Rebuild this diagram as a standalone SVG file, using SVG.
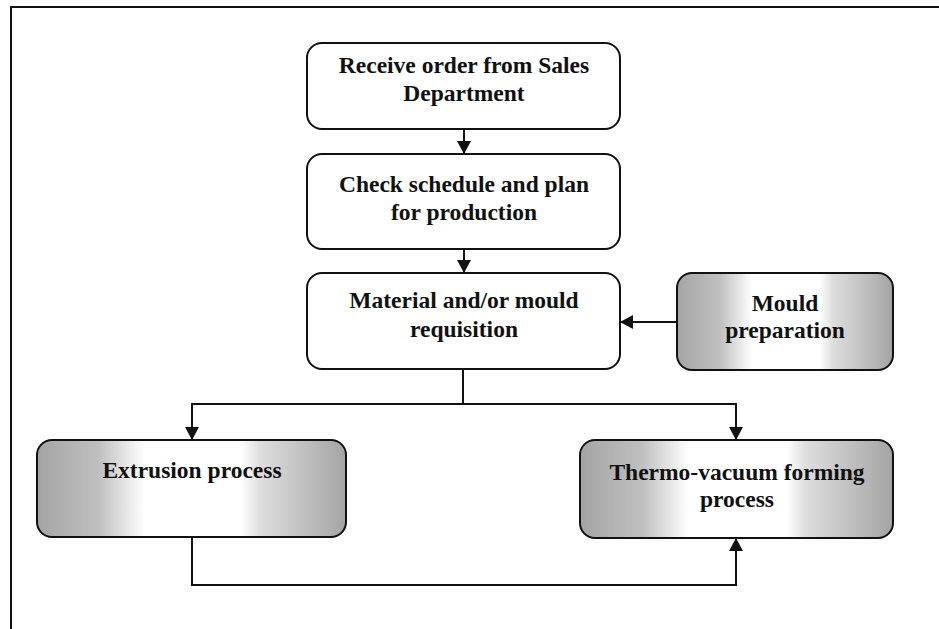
<svg xmlns="http://www.w3.org/2000/svg" width="939" height="629" viewBox="0 0 939 629">
<defs>
<style>
.box{stroke:#111;stroke-width:2;}
.plain{fill:#fff;}
.shaded{fill:url(#g);}
.t{font-family:"Liberation Serif","Times New Roman",serif;font-weight:bold;font-size:23.5px;fill:#111;text-anchor:middle;}
.c{fill:none;stroke:#111;stroke-width:2;}
</style>
<linearGradient id="g" x1="0" y1="0" x2="1" y2="0">
<stop offset="0" stop-color="#a4a4a4"/>
<stop offset="0.2" stop-color="#c0c0c0"/>
<stop offset="0.32" stop-color="#f4f4f4"/>
<stop offset="0.35" stop-color="#ffffff"/>
<stop offset="0.66" stop-color="#ffffff"/>
<stop offset="0.72" stop-color="#dedede"/>
<stop offset="1" stop-color="#a4a4a4"/>
</linearGradient>
<marker id="ah" viewBox="0 0 13 14" refX="13" refY="7" markerWidth="13" markerHeight="14" markerUnits="userSpaceOnUse" orient="auto">
<path d="M0,0 L13,7 L0,14 Z" fill="#111"/>
</marker>
</defs>
<rect width="939" height="629" fill="#fff"/>
<path d="M11,629 V7 H939" fill="none" stroke="#111" stroke-width="2"/>
<g id="n1">
<rect class="box plain" x="307" y="43" width="313" height="86" rx="15"/>
<text class="t" x="464" y="73">Receive order from Sales</text>
<text class="t" x="464" y="101">Department</text>
</g>
<g id="n2">
<rect class="box plain" x="307" y="154" width="313" height="95" rx="15"/>
<text class="t" x="464" y="192">Check schedule and plan</text>
<text class="t" x="464" y="220">for production</text>
</g>
<g id="n3">
<rect class="box plain" x="307" y="273" width="313" height="96" rx="15"/>
<text class="t" x="464" y="308">Material and/or mould</text>
<text class="t" x="464" y="337">requisition</text>
</g>
<g id="n4">
<rect class="box shaded" x="677" y="273" width="216" height="97" rx="15"/>
<text class="t" x="785" y="311">Mould</text>
<text class="t" x="785" y="338">preparation</text>
</g>
<g id="n5">
<rect class="box shaded" x="37" y="440" width="309" height="97" rx="15"/>
<text class="t" x="192" y="478">Extrusion process</text>
</g>
<g id="n6">
<rect class="box shaded" x="580" y="440" width="313" height="98" rx="15"/>
<text class="t" x="737" y="480">Thermo-vacuum forming</text>
<text class="t" x="737" y="507">process</text>
</g>
<g id="connectors">
<path class="c" d="M464,129 V154" marker-end="url(#ah)"/>
<path class="c" d="M464,249 V273" marker-end="url(#ah)"/>
<path class="c" d="M677,322 H620" marker-end="url(#ah)"/>
<path class="c" d="M463,369 V404 H192 V440" marker-end="url(#ah)"/>
<path class="c" d="M463,404 H736 V440" marker-end="url(#ah)"/>
<path class="c" d="M192,537 V585 H736 V538" marker-end="url(#ah)"/>
</g>
</svg>
